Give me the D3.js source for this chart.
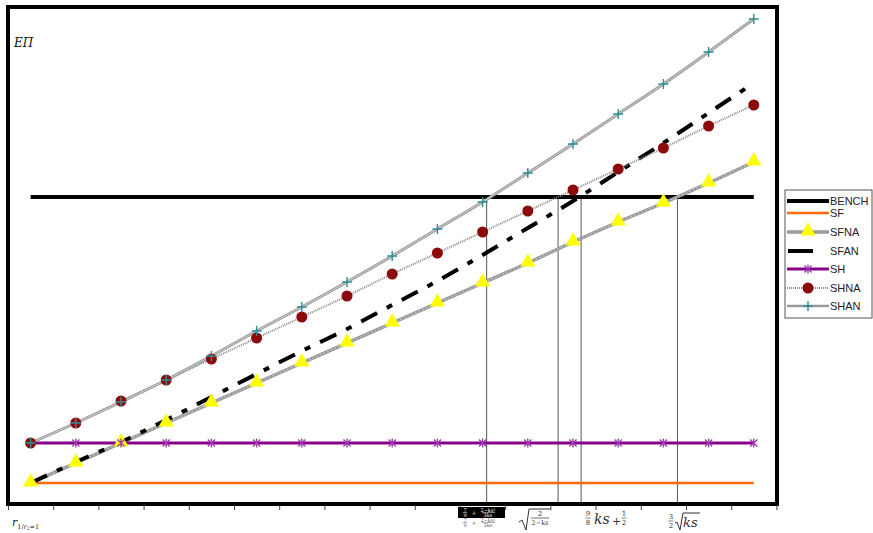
<!DOCTYPE html>
<html><head><meta charset="utf-8">
<script src="https://cdn.jsdelivr.net/npm/d3@7"></script>
<style>html,body{margin:0;padding:0;background:#fff;}svg{display:block;}</style>
</head><body>
<script>
// ---- data ----
const categories = [1,2,3,4,5,6,7,8,9,10,11,12,13,14,15,16,17];
const BENCH = [306,306,306,306,306,306,306,306,306,306,306,306,306,306,306,306,306];
const SF    = [20,20,20,20,20,20,20,20,20,20,20,20,20,20,20,20,20];
const SH    = [60,60,60,60,60,60,60,60,60,60,60,60,60,60,60,60,60];
const SFNA  = [20,40,60,80,100,120,140,160,180,200,220,240,261,281,300,320,341];
const SFAN  = [20,41,61,83,106,129,152,174,198,222,248,275,302,331,360,390,420];
const SHNA  = [60,80,102,123,144,165,186,207,229,250,271,292,313,334,355,377,398];
const SHAN  = [60,80,101,123,147,172,196,221,247,274,301,330,359,389,419,451,484];
const crossX = [11.09, 12.67, 13.18, 15.31];   // where curves meet BENCH
const seriesNames = ["BENCH","SF","SFNA","SFAN","SH","SHNA","SHAN"];

const W = 873, H = 533;
const svg = d3.select("body").append("svg").attr("width", W).attr("height", H);

const x = d3.scaleLinear().domain([0.5, 17.5]).range([8, 776.4]);
const y = d3.scaleLinear().domain([0, 496]).range([503, 7]);

// vertical reference lines
svg.append("g").selectAll("line").data(crossX).join("line")
  .attr("x1", d => x(d)).attr("x2", d => x(d))
  .attr("y1", y(0)).attr("y2", y(BENCH[0]))
  .attr("stroke", "#555").attr("stroke-width", 1);

const line = d3.line().x((d,i) => x(categories[i])).y(d => y(d));
const smooth = d3.line().x((d,i) => x(categories[i])).y(d => y(d)).curve(d3.curveCatmullRom);

// BENCH
svg.append("path").datum(BENCH).attr("d", line).attr("fill","none").attr("stroke","#000").attr("stroke-width",4);
// SF
svg.append("path").datum(SF).attr("d", line).attr("fill","none").attr("stroke","#FF6A10").attr("stroke-width",2.5);
// SFNA
svg.append("path").datum(SFNA).attr("d", smooth).attr("fill","none").attr("stroke","#9a9a9a").attr("stroke-width",3.5);
svg.append("path").datum(SFNA).attr("d", smooth).attr("fill","none").attr("stroke","#cfcfcf").attr("stroke-width",1).attr("stroke-dasharray","2,2");
// SFAN
svg.append("path").datum(SFAN).attr("d", smooth).attr("fill","none").attr("stroke","#000").attr("stroke-width",4)
  .attr("stroke-dasharray","18,11,6,11");
// SH
svg.append("path").datum(SH).attr("d", line).attr("fill","none").attr("stroke","#880088").attr("stroke-width",3);
// SHNA
svg.append("path").datum(SHNA).attr("d", smooth).attr("fill","none").attr("stroke","#8a8a8a").attr("stroke-width",2).attr("stroke-dasharray","1,1");
// SHAN
svg.append("path").datum(SHAN).attr("d", smooth).attr("fill","none").attr("stroke","#9a9a9a").attr("stroke-width",3);
svg.append("path").datum(SHAN).attr("d", smooth).attr("fill","none").attr("stroke","#d0d0d0").attr("stroke-width",1);

// markers
const tri = d3.symbol().type(d3.symbolTriangle).size(100);
function drawTri(g, cx, cy){ g.append("path").attr("d", tri()).attr("transform",`translate(${cx},${cy-1})`).attr("fill","#FFFF00"); }
function drawStar(g, cx, cy){
  const s = 4.5;
  g.append("path").attr("d",`M${cx},${cy-s}V${cy+s}M${cx-s*0.8},${cy-s*0.8}L${cx+s*0.8},${cy+s*0.8}M${cx-s*0.8},${cy+s*0.8}L${cx+s*0.8},${cy-s*0.8}`)
    .attr("stroke","#A040B0").attr("stroke-width",1.4).attr("fill","none");
}
function drawCircle(g, cx, cy){ g.append("circle").attr("cx",cx).attr("cy",cy).attr("r",5.5).attr("fill","#8B0A0A"); }
function drawPlus(g, cx, cy){
  const s = 5;
  g.append("path").attr("d",`M${cx-s},${cy}H${cx+s}M${cx},${cy-s}V${cy+s}`).attr("stroke","#2F8F96").attr("stroke-width",1.4);
}
const mg = svg.append("g");
SFNA.forEach((v,i)=>drawTri(mg, x(categories[i]), y(v)));
SH.forEach((v,i)=>drawStar(mg, x(categories[i]), y(v)));
SHNA.forEach((v,i)=>drawCircle(mg, x(categories[i]), y(v)));
SHAN.forEach((v,i)=>drawPlus(mg, x(categories[i]), y(v)));

// frame
svg.append("rect").attr("x",8).attr("y",7).attr("width",769).attr("height",497)
  .attr("fill","none").attr("stroke","#000").attr("stroke-width",4);

// x axis ticks
const axis = d3.axisBottom(x).tickValues(d3.range(0.5, 17.6, 1)).tickFormat("").tickSize(5).tickSizeOuter(0);
const ax = svg.append("g").attr("transform","translate(0,505)").call(axis);
ax.select(".domain").remove();
ax.selectAll(".tick line").attr("stroke","#444").attr("stroke-width",1);

// Y label
svg.append("text").attr("x",14).attr("y",47).attr("font-family","DejaVu Serif").attr("font-style","italic")
  .attr("font-size",12).attr("fill","#111").text("EΠ");

// x label r_{1/r2=1}
const rl = svg.append("text").attr("x",12).attr("y",526).attr("font-family","DejaVu Serif").attr("fill","#222");
rl.append("tspan").attr("font-style","italic").attr("font-size",11).text("r");
rl.append("tspan").attr("font-size",6.5).attr("dy",3).text("1/");
rl.append("tspan").attr("font-size",6.5).attr("font-style","italic").text("r");
rl.append("tspan").attr("font-size",4.5).attr("dy",1).text("2");
rl.append("tspan").attr("font-size",6.5).attr("dy",-1).text("=1");

// label 1: boxed fraction
svg.append("rect").attr("x",458).attr("y",507).attr("width",47).attr("height",11).attr("fill","#000");
function tinyFrac(cx, yTop, color){
  const g = svg.append("g").attr("fill",color).attr("font-family","DejaVu Serif").attr("font-size",5);
  g.append("text").attr("x",cx-16).attr("y",yTop+3.5).attr("text-anchor","middle").text("7");
  g.append("text").attr("x",cx-16).attr("y",yTop+8.5).attr("text-anchor","middle").text("9");
  g.append("line").attr("x1",cx-18).attr("x2",cx-14).attr("y1",yTop+4.5).attr("y2",yTop+4.5).attr("stroke",color).attr("stroke-width",0.5);
  g.append("text").attr("x",cx-7).attr("y",yTop+6.5).attr("text-anchor","middle").attr("font-size",6).text("+");
  g.append("text").attr("x",cx+7).attr("y",yTop+3.5).attr("text-anchor","middle").text("2−ks²");
  g.append("line").attr("x1",cx+1).attr("x2",cx+14).attr("y1",yTop+4.5).attr("y2",yTop+4.5).attr("stroke",color).attr("stroke-width",0.5);
  g.append("text").attr("x",cx+7).attr("y",yTop+8.5).attr("text-anchor","middle").text("3ks");
}
tinyFrac(481, 508, "#fff");
tinyFrac(481, 518, "#555");

const mathFont = "DejaVu Serif";
// label 2: sqrt(2/(2-ks))
svg.append("path").attr("d","M519,522L522,520L526,530L529,509H551").attr("fill","none").attr("stroke","#333").attr("stroke-width",1);
svg.append("text").attr("x",540).attr("y",516).attr("text-anchor","middle").attr("font-family",mathFont).attr("font-size",7).attr("fill","#333").text("2");
svg.append("line").attr("x1",531).attr("x2",549).attr("y1",518).attr("y2",518).attr("stroke","#333").attr("stroke-width",0.7);
svg.append("text").attr("x",540).attr("y",525).attr("text-anchor","middle").attr("font-family",mathFont).attr("font-size",6.5).attr("fill","#333").text("2−ks");

// label 3: 9/8 ks + 1/2
function smallFrac(cx, num, den, top){
  svg.append("text").attr("x",cx).attr("y",top+6).attr("text-anchor","middle").attr("font-family",mathFont).attr("font-size",7).attr("fill","#333").text(num);
  svg.append("line").attr("x1",cx-2.5).attr("x2",cx+2.5).attr("y1",top+8).attr("y2",top+8).attr("stroke","#333").attr("stroke-width",0.6);
  svg.append("text").attr("x",cx).attr("y",top+14.5).attr("text-anchor","middle").attr("font-family",mathFont).attr("font-size",7).attr("fill","#333").text(den);
}
smallFrac(588, "9", "8", 510);
svg.append("text").attr("x",594).attr("y",524).attr("font-family",mathFont).attr("font-style","italic").attr("font-size",14).attr("fill","#333").text("ks");
svg.append("text").attr("x",612).attr("y",525).attr("font-family",mathFont).attr("font-size",11).attr("fill","#333").text("+");
smallFrac(624, "1", "2", 510);

// label 4: 3/2 sqrt(ks)
smallFrac(671, "3", "2", 513);
svg.append("path").attr("d","M675,523L677,522L680,530L683,513H700").attr("fill","none").attr("stroke","#333").attr("stroke-width",1);
svg.append("text").attr("x",683).attr("y",527).attr("font-family",mathFont).attr("font-style","italic").attr("font-size",13).attr("fill","#333").text("ks");

// legend
const lg = svg.append("g");
lg.append("rect").attr("x",785).attr("y",190).attr("width",87).attr("height",128).attr("fill","#fff").attr("stroke","#555").attr("stroke-width",1);
const ly = [201,213,232,251,269,288,306];
const lx0 = 787, lx1 = 829, lxm = 808;
function lline(yy, stroke, w, dash){
  const l = lg.append("line").attr("x1",lx0).attr("x2",lx1).attr("y1",yy).attr("y2",yy).attr("stroke",stroke).attr("stroke-width",w);
  if (dash) l.attr("stroke-dasharray",dash);
}
lline(ly[0], "#000", 4);
lline(ly[1], "#FF6A10", 2.5);
lline(ly[2], "#9a9a9a", 3.5);
drawTri(lg, lxm, ly[2]);
lg.append("line").attr("x1",788).attr("x2",813).attr("y1",ly[3]).attr("y2",ly[3]).attr("stroke","#000").attr("stroke-width",4);
lline(ly[4], "#880088", 3);
drawStar(lg, lxm, ly[4]);
lline(ly[5], "#8a8a8a", 2, "1,1");
drawCircle(lg, lxm, ly[5]);
lline(ly[6], "#9a9a9a", 2.5);
drawPlus(lg, lxm, ly[6]);
lg.selectAll("text.lt").data(seriesNames).join("text").attr("class","lt")
  .attr("x",830).attr("y",(d,i)=>ly[i]+4).attr("font-family","Liberation Sans, Arial").attr("font-size",11)
  .attr("fill","#222").text(d=>d);
</script>
</body></html>
